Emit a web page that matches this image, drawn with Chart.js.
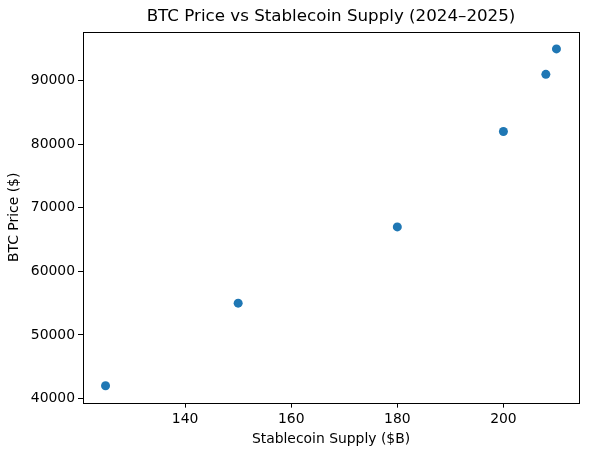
<!DOCTYPE html>
<html>
<head>
<meta charset="utf-8">
<script src="https://cdn.jsdelivr.net/npm/chart.js@4"></script>
<style>
html,body{margin:0;padding:0;background:#fff;}
canvas{display:block;}
</style>
</head>
<body>
<canvas id="c" width="589" height="455"></canvas>
<script>
const supply = [125, 150, 180, 200, 208, 210];
const btcPrice = [42000, 55000, 67000, 82000, 91000, 95000];
const xTicks = [140, 160, 180, 200];
const yTicks = [40000, 50000, 60000, 70000, 80000, 90000];
const titleText = 'BTC Price vs Stablecoin Supply (2024\u20132025)';
const xLabel = 'Stablecoin Supply ($B)';
const yLabel = 'BTC Price ($)';

function padRange(arr) {
  const mn = Math.min(...arr), mx = Math.max(...arr);
  const m = (mx - mn) * 0.05;
  return [mn - m, mx + m];
}
const [xMin, xMax] = padRange(supply);
const [yMin, yMax] = padRange(btcPrice);

const FONT = 'DejaVu Sans';

const framePlugin = {
  id: 'frame',
  afterDatasetsDraw(chart) {
    const a = chart.chartArea, ctx = chart.ctx;
    ctx.save();
    ctx.strokeStyle = '#000';
    ctx.lineWidth = 1;
    ctx.strokeRect(Math.round(a.left) + 0.5, Math.round(a.top) + 0.5,
                   Math.round(a.right - a.left), Math.round(a.bottom - a.top));
    ctx.restore();
  }
};

new Chart(document.getElementById('c'), {
  type: 'scatter',
  data: {
    datasets: [{
      data: supply.map((x, i) => ({x: x, y: btcPrice[i]})),
      backgroundColor: '#1f77b4',
      borderColor: '#1f77b4',
      borderWidth: 0,
      pointRadius: 4.5,
      pointHoverRadius: 4.5
    }]
  },
  options: {
    responsive: false,
    animation: false,
    devicePixelRatio: 1,
    layout: {padding: {top: 0, right: 10, bottom: 0, left: 0}},
    plugins: {
      legend: {display: false},
      tooltip: {enabled: false},
      title: {
        display: true,
        text: titleText,
        color: '#000',
        fullSize: false,
        font: {family: FONT, size: 16.7, weight: 'normal'},
        padding: {top: 7, bottom: 5}
      }
    },
    scales: {
      x: {
        type: 'linear',
        min: xMin, max: xMax,
        afterBuildTicks(s) { s.ticks = xTicks.map(v => ({value: v})); },
        ticks: {color: '#000', font: {family: FONT, size: 13.9}, padding: 3, maxRotation: 0,
                callback: v => String(v)},
        grid: {display: true, drawOnChartArea: false, drawTicks: true, tickLength: 5, color: '#000', tickWidth: 1},
        border: {display: false},
        title: {display: true, text: xLabel, color: '#000', font: {family: FONT, size: 13.9},
                padding: {top: 1, bottom: 7}}
      },
      y: {
        type: 'linear',
        min: yMin, max: yMax,
        afterBuildTicks(s) { s.ticks = yTicks.map(v => ({value: v})); },
        afterFit(s) { s.width = 83; },
        ticks: {color: '#000', font: {family: FONT, size: 13.9}, padding: 3,
                callback: v => String(v)},
        grid: {display: true, drawOnChartArea: false, drawTicks: true, tickLength: 5, color: '#000', tickWidth: 1},
        border: {display: false},
        title: {display: true, text: yLabel, color: '#000', font: {family: FONT, size: 13.9},
                padding: {top: 6, bottom: 6}}
      }
    }
  },
  plugins: [framePlugin]
});
</script>
</body>
</html>
